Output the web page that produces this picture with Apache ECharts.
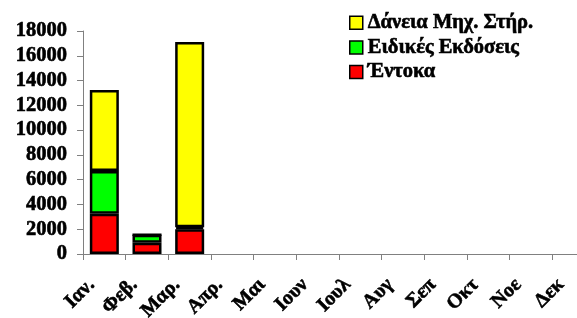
<!DOCTYPE html>
<html>
<head>
<meta charset="utf-8">
<script src="https://cdn.jsdelivr.net/npm/echarts@6/dist/echarts.min.js"></script>
<style>
  html, body { margin: 0; padding: 0; background: #fff; }
  #chart { width: 577px; height: 318px; }
</style>
</head>
<body>
<div id="chart"></div>
<script>
// μήνες
const months = ["Ιαν.", "Φεβ.", "Μαρ.", "Απρ.", "Μαι", "Ιουν", "Ιουλ", "Αυγ", "Σεπ", "Οκτ", "Νοε", "Δεκ"];
const entoka = [3250, 900, 2000, null, null, null, null, null, null, null, null, null];
const eidikes = [3450, 650, 150, null, null, null, null, null, null, null, null, null];
const daneia = [6540, 0, 14960, null, null, null, null, null, null, null, null, null];

const serif = "Liberation Serif";
// λίγο πιο έντονα γράμματα
const heavy = { fontFamily: serif, fontWeight: "bold", color: "#000", textBorderColor: "#000", textBorderWidth: 0.6 };

let myChart = echarts.init(document.getElementById("chart"));

function barSeries(name, data, color) {
  return {
    name: name,
    type: "bar",
    stack: "total",
    barCategoryGap: "32%",
    itemStyle: { color: color, borderColor: "#000", borderWidth: 2.5 },
    data: data,
  };
}

let option = {
  animation: false,
  legend: {
    orient: "vertical",
    left: 349,
    top: 12,
    padding: 0,
    icon: "rect",
    itemWidth: 13,
    itemHeight: 13,
    itemGap: 3,
    data: ["Δάνεια Μηχ. Στήρ.", "Ειδικές Εκδόσεις", "Έντοκα"],
    itemStyle: { borderColor: "#000", borderWidth: 1.5 },
    textStyle: { ...heavy, fontSize: 20.5, padding: [0, 0, 0, 0] },
  },
  grid: { left: 83, right: -18, top: 31, bottom: 64, outerBoundsMode: "none", containLabel: false },
  xAxis: {
    type: "category",
    data: months,
    axisLine: { lineStyle: { color: "#808080", width: 1 } },
    axisTick: { show: true, length: 6, lineStyle: { color: "#808080" } },
    axisLabel: {
      ...heavy,
      rotate: 45,
      margin: 15,
      padding: [0, 18, 0, 0],
      interval: 0,
      fontSize: 20,
    },
  },
  yAxis: {
    type: "value",
    min: 0,
    max: 18000,
    interval: 2000,
    axisLine: { show: true, lineStyle: { color: "#808080", width: 1 } },
    axisTick: { show: true, length: 6, lineStyle: { color: "#808080" } },
    splitLine: { show: false },
    axisLabel: {
      ...heavy,
      margin: 16,
      formatter: (v) => String(v),
      fontSize: 20.5,
    },
  },
  series: [
    barSeries("Έντοκα", entoka, "#ff0000"),
    barSeries("Ειδικές Εκδόσεις", eidikes, "#00ff00"),
    barSeries("Δάνεια Μηχ. Στήρ.", daneia, "#ffff00"),
  ],
};

myChart.setOption(option);
</script>
</body>
</html>
